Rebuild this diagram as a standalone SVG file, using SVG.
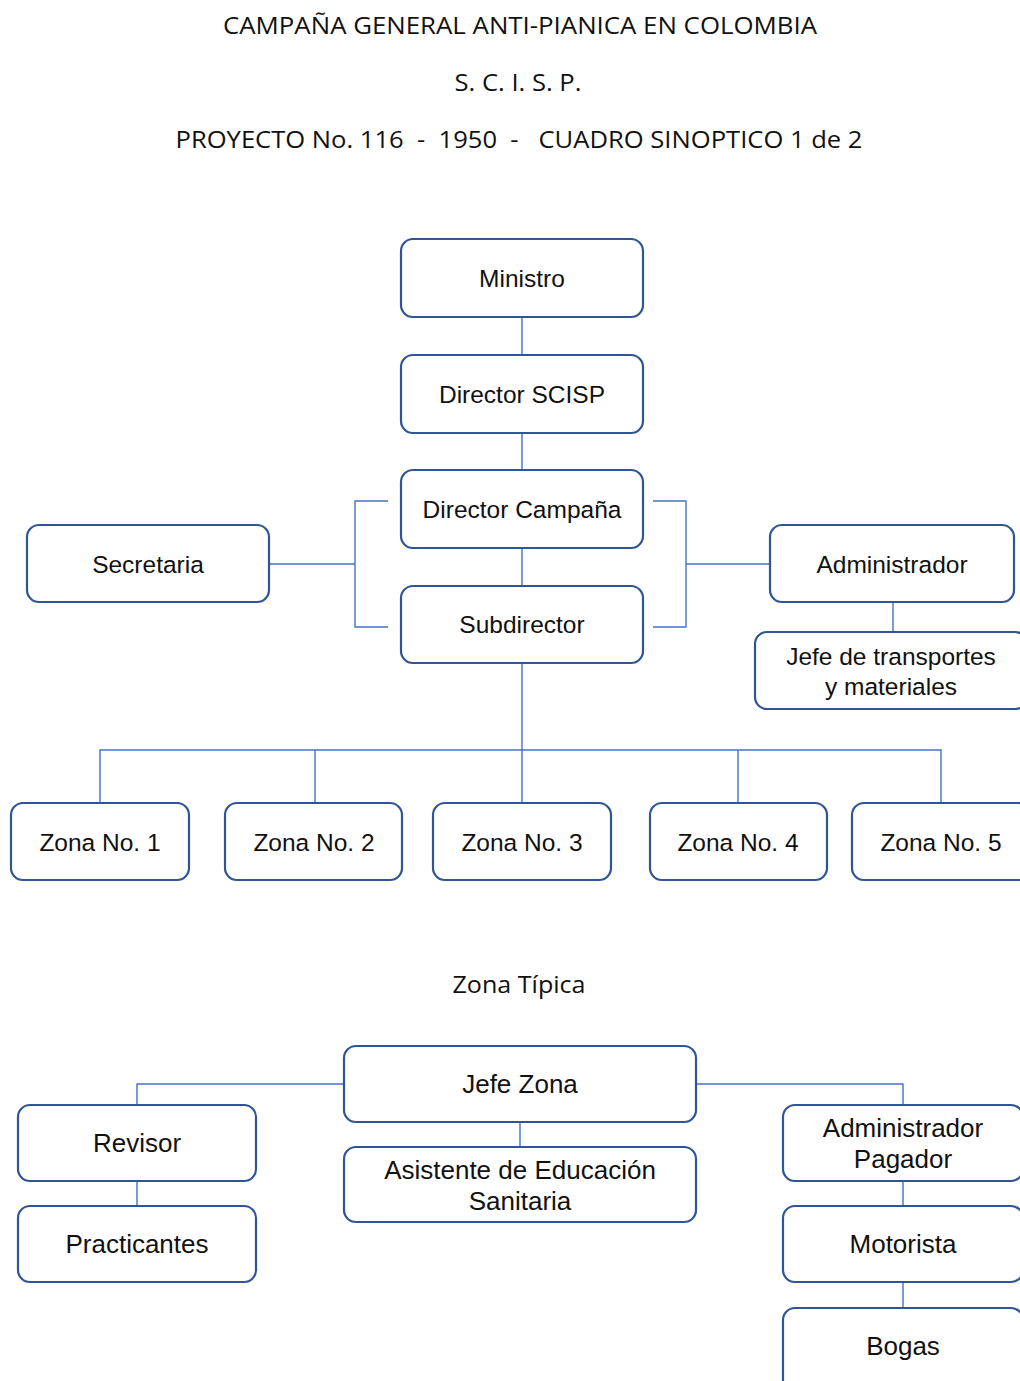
<svg xmlns="http://www.w3.org/2000/svg" width="1020" height="1381" viewBox="0 0 1020 1381">
<style>
.box{fill:#fff;stroke:#2F5597;stroke-width:2.2}
.lbl{font-family:"Liberation Sans",Arial,sans-serif;font-size:24.5px;fill:#111;text-anchor:middle}
.lbl2{font-family:"Liberation Sans",Arial,sans-serif;font-size:26px;fill:#111;text-anchor:middle}
.ttl{font-family:"Open Sans","Liberation Sans",sans-serif;font-size:24px;fill:#111;text-anchor:middle}
.con{fill:none;stroke:#4472C4;stroke-width:1.4}
</style>
<rect width="1020" height="1381" fill="#fff"/>
<g id="titles">
<text class="ttl" x="520" y="34" textLength="594" lengthAdjust="spacingAndGlyphs">CAMPAÑA GENERAL ANTI-PIANICA EN COLOMBIA</text>
<text class="ttl" x="518" y="91" textLength="127" lengthAdjust="spacingAndGlyphs">S. C. I. S. P.</text>
<text class="ttl" x="519" y="148" textLength="687" lengthAdjust="spacingAndGlyphs" xml:space="preserve">PROYECTO No. 116  -  1950  -   CUADRO SINOPTICO 1 de 2</text>
<text class="ttl" x="519" y="993" textLength="133" lengthAdjust="spacingAndGlyphs">Zona Típica</text>
</g>
<g id="connectors">
<path class="con" d="M522 317V355M522 433V470M522 548V586M522 663V803"/>
<path class="con" d="M388 501H355V627H388M269 564H355"/>
<path class="con" d="M653 501H686V627H653M686 564H770"/>
<path class="con" d="M893 602V632"/>
<path class="con" d="M100 803V750H941V803M315 750V803M738 750V803"/>
<path class="con" d="M344 1084H137V1105M696 1084H903V1105M520 1122V1147M137 1181V1206M903 1181V1206M903 1282V1308"/>
</g>
<g id="ministro"><rect class="box" x="401" y="239" width="242" height="78" rx="12"/><text class="lbl" x="522" y="287">Ministro</text></g>
<g id="director-scisp"><rect class="box" x="401" y="355" width="242" height="78" rx="12"/><text class="lbl" x="522" y="403">Director SCISP</text></g>
<g id="director-campana"><rect class="box" x="401" y="470" width="242" height="78" rx="12"/><text class="lbl" x="522" y="518">Director Campaña</text></g>
<g id="subdirector"><rect class="box" x="401" y="586" width="242" height="77" rx="12"/><text class="lbl" x="522" y="633">Subdirector</text></g>
<g id="secretaria"><rect class="box" x="27" y="525" width="242" height="77" rx="12"/><text class="lbl" x="148" y="573">Secretaria</text></g>
<g id="administrador"><rect class="box" x="770" y="525" width="244" height="77" rx="12"/><text class="lbl" x="892" y="573">Administrador</text></g>
<g id="jefe-transportes"><rect class="box" x="755" y="632" width="272" height="77" rx="12"/><text class="lbl" x="891" y="665">Jefe de transportes</text><text class="lbl" x="891" y="695">y materiales</text></g>
<g id="zona1"><rect class="box" x="11" y="803" width="178" height="77" rx="12"/><text class="lbl" x="100" y="851">Zona No. 1</text></g>
<g id="zona2"><rect class="box" x="225" y="803" width="177" height="77" rx="12"/><text class="lbl" x="314" y="851">Zona No. 2</text></g>
<g id="zona3"><rect class="box" x="433" y="803" width="178" height="77" rx="12"/><text class="lbl" x="522" y="851">Zona No. 3</text></g>
<g id="zona4"><rect class="box" x="650" y="803" width="177" height="77" rx="12"/><text class="lbl" x="738" y="851">Zona No. 4</text></g>
<g id="zona5"><rect class="box" x="852" y="803" width="178" height="77" rx="12"/><text class="lbl" x="941" y="851">Zona No. 5</text></g>
<g id="jefe-zona"><rect class="box" x="344" y="1046" width="352" height="76" rx="12"/><text class="lbl2" x="520" y="1093">Jefe Zona</text></g>
<g id="asistente"><rect class="box" x="344" y="1147" width="352" height="75" rx="12"/><text class="lbl2" x="520" y="1179">Asistente de Educación</text><text class="lbl2" x="520" y="1210">Sanitaria</text></g>
<g id="revisor"><rect class="box" x="18" y="1105" width="238" height="76" rx="12"/><text class="lbl2" x="137" y="1152">Revisor</text></g>
<g id="practicantes"><rect class="box" x="18" y="1206" width="238" height="76" rx="12"/><text class="lbl2" x="137" y="1253">Practicantes</text></g>
<g id="admin-pagador"><rect class="box" x="783" y="1105" width="240" height="76" rx="12"/><text class="lbl2" x="903" y="1137">Administrador</text><text class="lbl2" x="903" y="1168">Pagador</text></g>
<g id="motorista"><rect class="box" x="783" y="1206" width="240" height="76" rx="12"/><text class="lbl2" x="903" y="1253">Motorista</text></g>
<g id="bogas"><rect class="box" x="783" y="1308" width="240" height="90" rx="12"/><text class="lbl2" x="903" y="1355">Bogas</text></g>
</svg>
